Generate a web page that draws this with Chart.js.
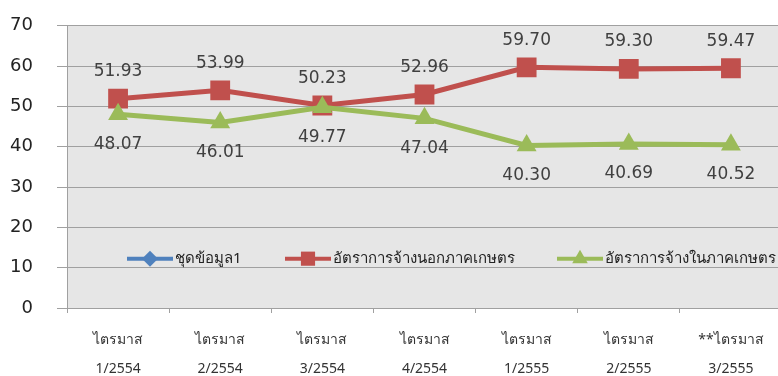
<!DOCTYPE html>
<html>
<head>
<meta charset="utf-8">
<script src="https://cdn.jsdelivr.net/npm/chart.js@4"></script>
<style>
  html, body { margin: 0; padding: 0; background: #fff; overflow: hidden; }
  #wrap { width: 800px; height: 376px; overflow: hidden; }
  #rate-chart { display: block; margin-top: -9px; }
</style>
</head>
<body>
<div id="wrap"><canvas id="rate-chart" width="800" height="385"></canvas></div>
<script>
const quarters = [
    ['ไตรมาส', '1/2554'], ['ไตรมาส', '2/2554'], ['ไตรมาส', '3/2554'], ['ไตรมาส', '4/2554'],
    ['ไตรมาส', '1/2555'], ['ไตรมาส', '2/2555'], ['**ไตรมาส', '3/2555']
];
const series1 = [null, null, null, null, null, null, null];
const nonFarmRate = [51.93, 53.99, 50.23, 52.96, 59.70, 59.30, 59.47];
const farmRate = [48.07, 46.01, 49.77, 47.04, 40.30, 40.69, 40.52];
const yTicks = [0, 10, 20, 30, 40, 50, 60, 70];

const thaiFont = "Tahoma, 'Noto Sans', 'DejaVu Sans', sans-serif";

// grey plot background
const plotBackground = {
    id: 'plotBackground',
    beforeDraw(chart) {
        const { ctx, chartArea } = chart;
        ctx.save();
        ctx.fillStyle = '#e6e6e6';
        ctx.fillRect(chartArea.left, chartArea.top, chartArea.right - chartArea.left, chartArea.bottom - chartArea.top);
        ctx.restore();
    }
};

// value labels above / below each point
const valueLabels = {
    id: 'valueLabels',
    afterDatasetsDraw(chart) {
        const ctx = chart.ctx;
        ctx.save();
        ctx.font = "17px 'DejaVu Sans', Verdana, sans-serif";
        ctx.fillStyle = '#404040';
        ctx.textAlign = 'center';
        ctx.textBaseline = 'middle';
        chart.data.datasets.forEach((ds, i) => {
            if (!ds.labelOffset) return;
            chart.getDatasetMeta(i).data.forEach((pt, j) => {
                const v = ds.data[j];
                if (v == null) return;
                ctx.fillText(v.toFixed(2), pt.x, pt.y + ds.labelOffset);
            });
        });
        ctx.restore();
    }
};

// legend row inside the plot, line + marker + text, sitting just above the 10 grid line
const innerLegend = {
    id: 'innerLegend',
    afterDraw(chart) {
        const ctx = chart.ctx;
        const y = chart.scales.y.getPixelForValue(10) - 9;
        const startX = [127, 285, 557];
        ctx.save();
        ctx.font = '15px ' + thaiFont;
        ctx.textBaseline = 'middle';
        chart.data.datasets.forEach((ds, i) => {
            const x0 = startX[i];
            ctx.strokeStyle = ds.borderColor;
            ctx.lineWidth = 4;
            ctx.beginPath();
            ctx.moveTo(x0, y);
            ctx.lineTo(x0 + 46, y);
            ctx.stroke();
            ctx.fillStyle = ds.borderColor;
            Chart.helpers.drawPoint(ctx, {
                pointStyle: ds.pointStyle,
                radius: ds.legendRadius,
                rotation: 0,
                borderWidth: 0
            }, x0 + 23, y);
            ctx.fillStyle = '#222';
            ctx.fillText(ds.label, x0 + 48, y);
        });
        ctx.restore();
    }
};

const ctx = document.getElementById('rate-chart').getContext('2d');
const rateChart = new Chart(ctx, {
    type: 'line',
    data: {
        labels: quarters,
        datasets: [{
            label: 'ชุดข้อมูล1',
            data: series1,
            borderColor: '#4f81bd',
            backgroundColor: '#4f81bd',
            pointStyle: 'rectRot',
            legendRadius: 8,
            borderWidth: 4
        }, {
            label: 'อัตราการจ้างนอกภาคเกษตร',
            data: nonFarmRate,
            borderColor: '#c0504d',
            backgroundColor: '#c0504d',
            pointStyle: 'rect',
            pointRadius: 14,
            pointBorderWidth: 0,
            legendRadius: 10,
            borderWidth: 5,
            labelOffset: -27,
            order: 2
        }, {
            label: 'อัตราการจ้างในภาคเกษตร',
            data: farmRate,
            borderColor: '#9bbb59',
            backgroundColor: '#9bbb59',
            pointStyle: 'triangle',
            pointRadius: 11.5,
            pointBorderWidth: 0,
            legendRadius: 9,
            borderWidth: 5,
            labelOffset: 30,
            order: 1
        }]
    },
    options: {
        responsive: false,
        animation: false,
        layout: { padding: { top: 15, right: 8, left: 0, bottom: 0 } },
        elements: {
            line: { tension: 0 },
            point: { borderWidth: 0, hoverRadius: 14 }
        },
        plugins: {
            legend: { display: false },
            tooltip: { enabled: false }
        },
        scales: {
            x: {
                offset: true,
                grid: {
                    offset: true,
                    drawOnChartArea: false,
                    tickLength: 5,
                    color: '#a0a0a0'
                },
                border: { display: false },
                ticks: {
                    color: '#333',
                    padding: 13,
                    maxRotation: 0,
                    autoSkip: false,
                    font: { family: thaiFont, size: 14, lineHeight: 2.05 }
                },
                afterFit(scale) { scale.height = 68; }
            },
            y: {
                min: 0,
                max: 70,
                afterBuildTicks(scale) { scale.ticks = yTicks.map(v => ({ value: v })); },
                grid: { color: '#a0a0a0', tickLength: 10 },
                border: { color: '#a0a0a0' },
                ticks: {
                    color: '#222',
                    padding: 24,
                    font: { family: "'DejaVu Sans', Verdana, sans-serif", size: 18 }
                },
                afterFit(scale) { scale.width = 67; }
            }
        }
    },
    plugins: [plotBackground, valueLabels, innerLegend]
});
</script>
</body>
</html>
